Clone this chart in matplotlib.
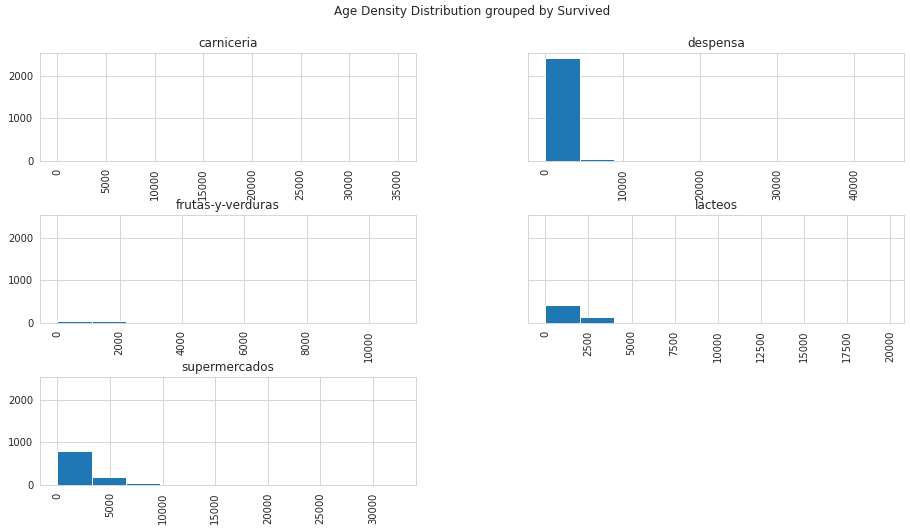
import numpy as np
import matplotlib
matplotlib.use("Agg")
import matplotlib.pyplot as plt
import seaborn as sns

# ---- data ----
groups = ["carniceria", "despensa", "frutas-y-verduras", "lacteos", "supermercados"]
# range (min, max) of each group's values; 10 equal bins each
range_carniceria = (0, 35100)
range_despensa = (0, 44200)
range_frutas = (0, 10960)
range_lacteos = (0, 19800)
range_supermercados = (0, 32440)
counts_carniceria = [14, 9, 1, 0, 0, 0, 0, 0, 0, 1]
counts_despensa = [2400, 55, 3, 1, 0, 0, 0, 0, 0, 1]
counts_frutas = [48, 47, 2, 1, 0, 0, 0, 0, 0, 1]
counts_lacteos = [420, 148, 8, 2, 1, 0, 0, 0, 0, 1]
counts_supermercados = [800, 195, 48, 4, 1, 0, 0, 0, 0, 1]

ranges = [range_carniceria, range_despensa, range_frutas, range_lacteos, range_supermercados]
counts = [counts_carniceria, counts_despensa, counts_frutas, counts_lacteos, counts_supermercados]
suptitle = "Age Density Distribution grouped by Survived"

sns.set_style("whitegrid")
plt.rcParams["font.family"] = ["DejaVu Sans"]

W, H = 910, 531
fig = plt.figure(figsize=(W / 72, H / 72), dpi=72)

col_left = [40.3, 528.3]
ax_w = 375.5
row_top = [53.3, 215.3, 377.3]
ax_h = 108.0

axes = []
for i, name in enumerate(groups):
    r, c = divmod(i, 2)
    left = col_left[c] / W
    bottom = (H - row_top[r] - ax_h) / H
    ax = fig.add_axes([left, bottom, ax_w / W, ax_h / H])
    if axes:
        ax.sharey(axes[0])
    axes.append(ax)
    lo, hi = ranges[i]
    edges = np.linspace(lo, hi, len(counts[i]) + 1)
    ax.hist(edges[:-1], bins=edges, weights=counts[i], color="#1f77b4",
            edgecolor="white", linewidth=1.0)
    ax.set_title(name, fontsize=12, color=".15")
    ax.grid(True)
    ax.tick_params(axis="x", labelrotation=90, labelsize=10)
    ax.tick_params(axis="y", labelsize=10)
    if c == 1:
        ax.tick_params(axis="y", labelleft=False)

fig.suptitle(suptitle, x=472 / W, y=1 - 5.5 / H, va="top", fontsize=12, color=".15")

fig.savefig("out.png", dpi=72)
